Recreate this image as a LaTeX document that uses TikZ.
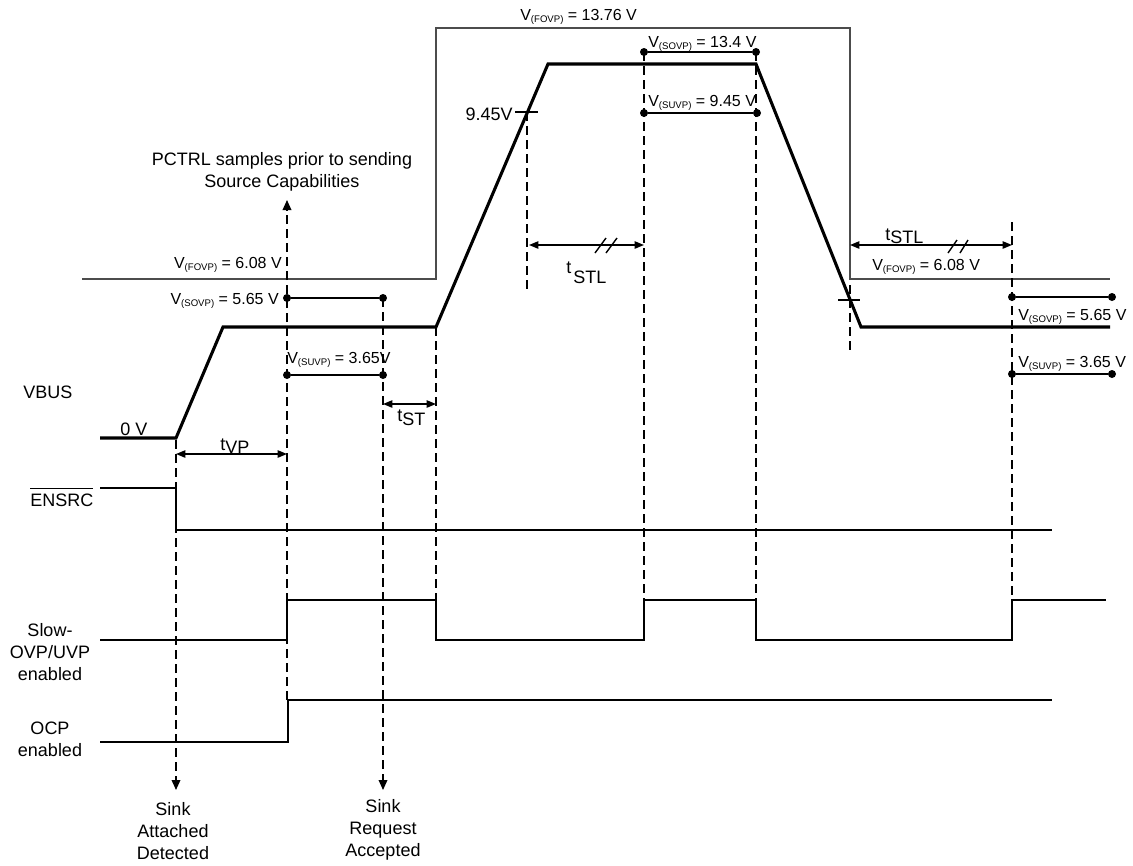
\documentclass[tikz,border=0pt]{standalone}
\usepackage{fontspec}
\setmainfont{Liberation Sans}
\usetikzlibrary{arrows.meta}
\newcommand{\vsub}[1]{\raisebox{-2pt}{\fontsize{7.2}{8}\selectfont #1}}
\tikzset{
every node/.style={inner sep=0pt, font=\fontsize{13.5}{16.5}\selectfont},
lvl/.style={font=\fontsize{12}{14}\selectfont},
dot/.style={circle, fill, minimum size=6pt},
vbus/.style={line width=2.3pt},
trace/.style={line width=1.05pt},
fovp/.style={line width=0.9pt, black!70},
guide/.style={line width=1pt, dash pattern=on 7pt off 3.5pt},
evt/.style={guide, -{Triangle[length=7.5pt,width=6.5pt]}},
span/.style={line width=1.05pt, {Triangle[length=7pt,width=5.5pt]}-{Triangle[length=7pt,width=5.5pt]}}
}

\begin{document}
\begin{tikzpicture}[x=0.75pt, y=-0.75pt]
\useasboundingbox (0,0) rectangle (1133,865);

% VBUS and fast OVP level
\draw[vbus] (100,438) -- (176,438) -- (223,327) -- (436,327) -- (548,64) -- (756,64) -- (861,327) -- (1110,327);
\draw[fovp] (82,279) -- (436,279) -- (436,28) -- (850,28) -- (850,279) -- (1110,279);

% logic signals
\draw[trace] (100,488) -- (176,488) -- (176,530) -- (1052,530);
\draw[trace] (100,640) -- (287,640) -- (287,600) -- (436,600) -- (436,640) -- (644,640) -- (644,600) -- (756,600) -- (756,640) -- (1012,640) -- (1012,600) -- (1106,600);
\draw[trace] (100,742) -- (288,742) -- (288,700) -- (1052,700);

% events
\coordinate (attach) at (176,440);
\coordinate (attachEnd) at (176,790);
\coordinate (sample) at (287,700);
\coordinate (sampleEnd) at (287,200);
\coordinate (request) at (383,298);
\coordinate (requestEnd) at (383,790);
\draw[evt] (attach) -- (attachEnd);
\draw[evt] (sample) -- (sampleEnd);
\draw[evt] (request) -- (requestEnd);

\draw[guide] (436,327) -- (436,600);
\draw[guide] (527,112) -- (527,290);
\draw[guide] (644,52) -- (644,600);
\draw[guide] (756,52) -- (756,600);
\draw[guide] (850,285) -- (850,355);
\draw[guide] (1012,222) -- (1012,600);

% slow OVP / UVP levels
\node[dot] (sovpL1) at (287,298) {};
\node[dot] (sovpL2) at (383,298) {};
\node[dot] (suvpL1) at (287,375) {};
\node[dot] (suvpL2) at (383,375) {};
\node[dot] (sovpT1) at (644,52) {};
\node[dot] (sovpT2) at (756,52) {};
\node[dot] (suvpT1) at (644,113) {};
\node[dot] (suvpT2) at (757,113) {};
\node[dot] (sovpR1) at (1012,297) {};
\node[dot] (sovpR2) at (1112,297) {};
\node[dot] (suvpR1) at (1012,374) {};
\node[dot] (suvpR2) at (1112,374) {};

\draw[trace] (sovpL1) -- (sovpL2);
\draw[trace] (suvpL1) -- (suvpL2);
\draw[trace] (sovpT1) -- (sovpT2);
\draw[trace] (suvpT1) -- (suvpT2);
\draw[trace] (sovpR1) -- (sovpR2);
\draw[trace] (suvpR1) -- (suvpR2);

% timing spans
\coordinate (vpA) at (176,454);
\coordinate (vpB) at (287,454);
\coordinate (stA) at (383,404);
\coordinate (stB) at (436,404);
\coordinate (stlA) at (529,245);
\coordinate (stlB) at (644,245);
\coordinate (stlC) at (850,245);
\coordinate (stlD) at (1012,245);
\draw[span] (vpA) -- (vpB);
\draw[span] (stA) -- (stB);
\draw[span] (stlA) -- (stlB);
\draw[span] (stlC) -- (stlD);
\draw[trace] (595,253) -- (606,238) (606,253) -- (617,238);
\draw[trace] (948,253) -- (957,240) (960,253) -- (968,240);

% threshold ticks
\draw[trace] (515,112) -- (538,112);
\draw[trace] (838,300) -- (860,300);

% level labels
\node[lvl, anchor=base west] (fovpTop) at (520,20) {V\vsub{(FOVP)} = 13.76 V};
\node[lvl, anchor=base east] (fovpL) at (282,268) {V\vsub{(FOVP)} = 6.08 V};
\node[lvl, anchor=base east] (sovpL) at (279,304) {V\vsub{(SOVP)} = 5.65 V};
\node[lvl, anchor=base west] (suvpL) at (287,363) {V\vsub{(SUVP)} = 3.65V};
\node[lvl, anchor=base west] (sovpT) at (648,47) {V\vsub{(SOVP)} = 13.4 V};
\node[lvl, anchor=base west] (suvpT) at (648,106) {V\vsub{(SUVP)} = 9.45 V};
\node[lvl, anchor=base west] (fovpR) at (872,270) {V\vsub{(FOVP)} = 6.08 V};
\node[lvl, anchor=base west] (sovpR) at (1018,320) {V\vsub{(SOVP)} = 5.65 V};
\node[lvl, anchor=base west] (suvpR) at (1018,367) {V\vsub{(SUVP)} = 3.65 V};
\node[anchor=base east] (uvTick) at (513,120) {9.45V};
\node[anchor=base west] (zero) at (120,435) {0 V};

% span labels
\node[anchor=base west] (tvp) at (220,450) {t\raisebox{-2.25pt}{VP}};
\node[anchor=base west] (tst) at (397,421) {t\raisebox{-3pt}{ST}};
\node[anchor=base west] (tstlA) at (566,273) {t\hspace{1.5pt}\raisebox{-7.5pt}{STL}};
\node[anchor=base west] (tstlB) at (885,240) {t\raisebox{-2.5pt}{STL}};

% signal names
\node[anchor=base west] (vbusName) at (23,398) {VBUS};
\node[anchor=base west] (ensrcName) at (30,506) {\vbox{\hrule height 1pt\kern 3pt\hbox{ENSRC}}};
\node[anchor=north, align=center] (slowName) at (50,623) {Slow-\\OVP/UVP\\enabled};
\node[anchor=north, align=center] (ocpName) at (50,722) {OCP\\enabled};

% event names
\node[anchor=north, align=center] (attachName) at (173,802) {Sink\\Attached\\Detected};
\node[anchor=north, align=center] (requestName) at (383,799) {Sink\\Request\\Accepted};
\node[anchor=north, align=center] (sampleName) at (282,152) {PCTRL samples prior to sending\\Source Capabilities};

\end{tikzpicture}
\end{document}
